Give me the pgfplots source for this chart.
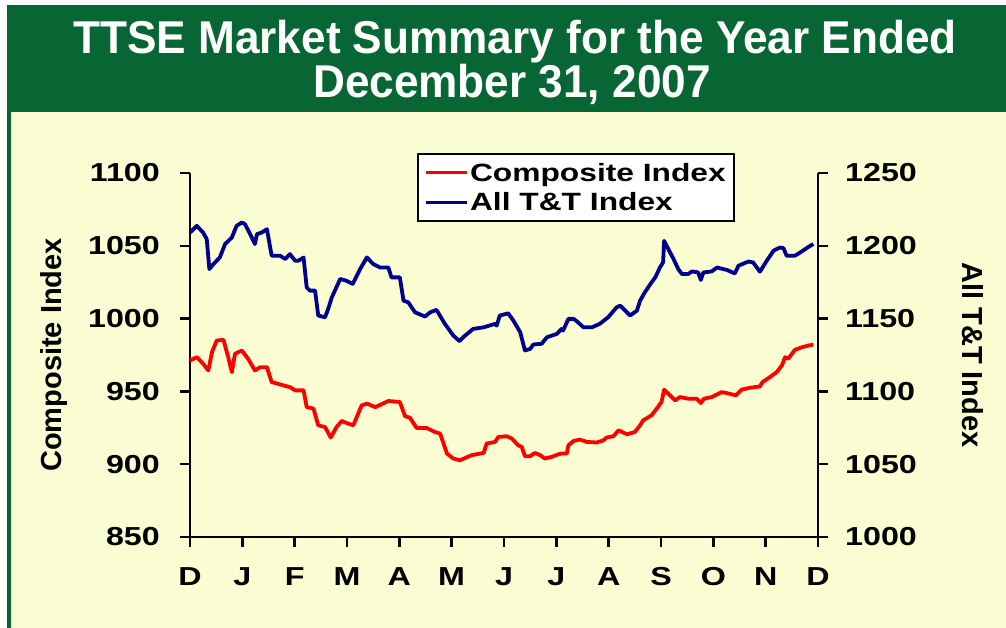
\documentclass[border=0pt]{standalone}
\usepackage{pgfplots}
\usepackage{pgfplotstable}
\pgfplotsset{compat=1.18}
\usepackage{fontspec}
\setmainfont{Liberation Sans}
\newfontfamily\titlefont[FakeStretch=0.96]{Liberation Sans}
\newfontfamily\widefont[FakeStretch=1.24]{Liberation Sans}
\newfontfamily\legfont[FakeStretch=1.27]{Liberation Sans}
\definecolor{bandgreen}{RGB}{8,102,52}
\definecolor{bgyellow}{RGB}{250,252,210}
\definecolor{navy}{RGB}{0,0,140}
\definecolor{cred}{RGB}{255,0,0}

\pgfplotstableread{
m v
0.00 971.2
0.13 973.5
0.25 969.0
0.35 964.4
0.42 976.9
0.51 984.9
0.64 985.4
0.73 973.5
0.80 963.2
0.86 975.8
0.99 978.1
1.11 972.4
1.24 964.4
1.34 966.6
1.47 966.6
1.56 956.4
1.72 954.8
1.91 952.9
2.01 950.7
2.17 950.7
2.23 939.2
2.36 938.2
2.45 926.7
2.58 925.5
2.69 918.3
2.80 925.5
2.90 929.7
2.99 928.3
3.12 926.7
3.28 940.4
3.38 941.6
3.54 939.2
3.79 943.4
4.01 942.7
4.11 932.9
4.20 932.0
4.33 924.9
4.52 924.9
4.68 922.1
4.78 921.0
4.91 907.3
5.03 903.9
5.16 902.7
5.38 906.2
5.61 907.7
5.67 914.2
5.83 915.3
5.89 918.7
6.05 919.2
6.15 917.6
6.27 913.0
6.34 911.8
6.40 905.5
6.50 905.5
6.59 907.7
6.69 906.2
6.78 903.9
6.91 905.0
7.04 906.8
7.10 907.3
7.20 907.3
7.23 913.0
7.33 916.0
7.45 916.9
7.58 915.3
7.77 914.9
7.90 916.4
7.96 918.3
8.09 919.2
8.19 923.3
8.35 920.5
8.50 922.1
8.60 926.7
8.66 930.1
8.82 933.6
8.92 938.2
9.01 942.7
9.06 951.2
9.14 948.4
9.27 943.8
9.36 946.1
9.52 945.0
9.68 945.0
9.76 942.0
9.82 945.0
9.97 946.1
10.16 949.5
10.26 948.8
10.43 947.3
10.54 951.2
10.70 952.5
10.89 953.4
10.94 956.4
11.08 959.8
11.21 963.2
11.31 967.8
11.37 973.5
11.43 972.4
11.56 978.6
11.69 980.3
11.82 981.5
11.91 982.2
}\composite

\pgfplotstableread{
m v
0.00 1209.1
0.13 1213.7
0.25 1209.1
0.32 1204.6
0.37 1184.0
0.45 1187.5
0.57 1192.0
0.67 1201.2
0.80 1205.7
0.89 1213.7
0.99 1216.0
1.05 1214.9
1.15 1208.0
1.24 1201.2
1.28 1208.0
1.37 1209.1
1.47 1211.4
1.56 1193.2
1.72 1193.2
1.82 1190.9
1.91 1194.3
2.01 1189.7
2.07 1189.7
2.17 1192.0
2.23 1171.4
2.29 1169.2
2.39 1169.2
2.45 1152.1
2.58 1150.9
2.64 1156.6
2.71 1164.6
2.87 1177.2
2.99 1176.0
3.11 1173.8
3.25 1184.0
3.38 1192.0
3.50 1187.5
3.63 1185.1
3.79 1185.1
3.85 1178.3
4.01 1178.3
4.08 1162.3
4.17 1161.2
4.30 1154.3
4.49 1151.4
4.59 1154.3
4.71 1156.0
4.87 1146.4
5.03 1138.4
5.15 1134.5
5.22 1137.2
5.41 1142.9
5.61 1144.0
5.83 1146.4
5.86 1145.2
5.92 1152.1
6.08 1153.6
6.18 1148.6
6.31 1140.6
6.40 1128.1
6.50 1129.2
6.56 1132.2
6.72 1132.7
6.82 1137.2
7.01 1139.5
7.10 1142.9
7.13 1141.8
7.23 1149.8
7.33 1149.8
7.39 1148.2
7.52 1144.0
7.68 1144.0
7.83 1146.4
7.99 1150.9
8.15 1157.7
8.22 1158.9
8.35 1154.3
8.41 1152.1
8.54 1155.5
8.60 1162.3
8.69 1168.0
8.82 1174.9
8.89 1178.3
8.98 1185.1
9.04 1188.6
9.06 1203.4
9.14 1197.7
9.24 1190.9
9.33 1184.0
9.40 1180.6
9.52 1180.6
9.59 1182.4
9.71 1181.7
9.76 1176.5
9.81 1181.7
9.97 1182.4
10.07 1185.1
10.26 1183.4
10.41 1181.0
10.48 1186.3
10.67 1189.2
10.76 1188.6
10.89 1182.2
11.02 1189.7
11.15 1196.6
11.27 1198.8
11.34 1198.4
11.40 1193.2
11.56 1193.2
11.66 1195.4
11.82 1199.3
11.91 1201.2
}\alltt

\begin{document}
\begin{tikzpicture}
\path[use as bounding box] (0pt,0pt) rectangle (1006pt,628pt);
\fill[white] (0pt,0pt) rectangle (1006pt,628pt);
\fill[bandgreen] (6.5pt,0pt) rectangle (1006pt,623pt);
\fill[bgyellow] (11pt,0pt) rectangle (1006pt,516pt);
\node[white, font=\titlefont\fontsize{46}{50}\selectfont\bfseries, anchor=base, inner sep=0pt] at (515pt,574pt) {TTSE Market Summary for the Year Ended};
\node[white, font=\titlefont\fontsize{46}{50}\selectfont\bfseries, anchor=base, inner sep=0pt] at (512pt,530pt) {December 31, 2007};

\pgfplotsset{
  common/.style={
    at={(190pt,91pt)}, anchor=south west,
    scale only axis, width=628pt, height=364pt,
    xmin=0, xmax=12,
    axis line style={-, line width=2.5pt, black},
    tick style={line width=2.5pt, black},
    tick align=outside, major tick length=10pt,
    ticklabel style={font=\widefont\fontsize{26}{28}\selectfont\bfseries, inner sep=0pt},
  }
}

\begin{axis}[common,
  ymin=850, ymax=1100,
  axis x line*=bottom, axis y line*=left,
  xtick={0,1,2,3,4,5,6,7,8,9,10,11,12},
  xticklabels={D,J,F,M,A,M,J,J,A,S,O,N,D},
  xticklabel style={anchor=north, yshift=-20pt},
  ytick={850,900,950,1000,1050,1100},
  yticklabels={850,900,950,1000,1050,1100},
  yticklabel style={anchor=east, xshift=-20pt},
  every axis y label/.style={at={(axis description cs:-0.205,0.5)}, rotate=90, anchor=base,
    font=\fontsize{29}{32}\selectfont\bfseries},
  ylabel={Composite Index},
]
\addplot[cred, line width=3.8pt, line join=round] table[x=m, y=v] {\composite};
\end{axis}

\begin{axis}[common,
  ymin=1000, ymax=1250,
  axis x line=none, axis y line*=right,
  ytick={1000,1050,1100,1150,1200,1250},
  yticklabels={1000,1050,1100,1150,1200,1250},
  yticklabel style={anchor=west, xshift=17pt},
  every axis y label/.style={at={(axis description cs:1.2293,0.5)}, rotate=-90, anchor=base,
    font=\fontsize{29}{32}\selectfont\bfseries},
  ylabel={All T\&T Index},
  legend style={at={(rel axis cs:0.3615,1.0549)}, anchor=north west,
    draw=black, line width=2pt, fill=white,
    font=\legfont\fontsize{25}{26}\selectfont\bfseries,
    inner xsep=6pt, inner ysep=7pt, row sep=6pt},
  legend cell align=left,
  legend image code/.code={\draw[#1, line width=3pt] (0pt,0pt) -- (41pt,0pt);},
]
\addlegendimage{cred, line width=3.8pt}
\addlegendentry{Composite Index}
\addplot[navy, line width=3.8pt, line join=round] table[x=m, y=v] {\alltt};
\addlegendentry{All T\&T Index}
\end{axis}
\end{tikzpicture}
\end{document}
